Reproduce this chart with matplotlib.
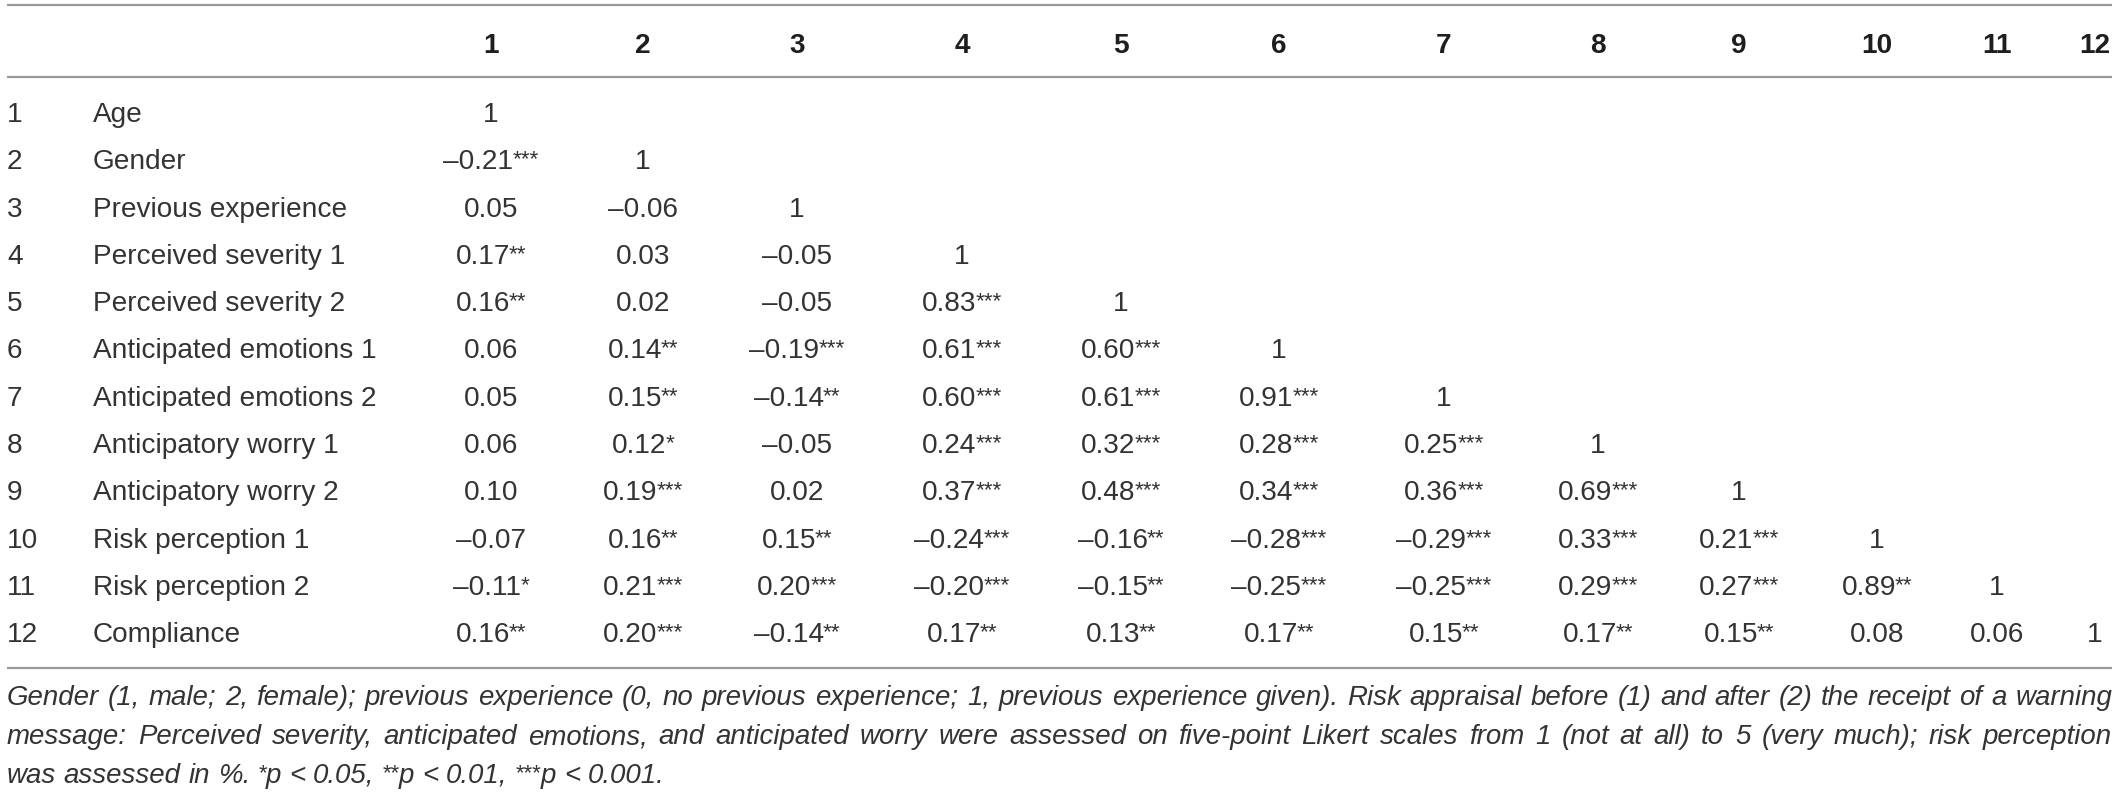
import matplotlib
matplotlib.use("Agg")
import matplotlib.pyplot as plt

# ---------------- data ----------------
col_headers = ["1", "2", "3", "4", "5", "6", "7", "8", "9", "10", "11", "12"]
row_numbers = ["1", "2", "3", "4", "5", "6", "7", "8", "9", "10", "11", "12"]
row_labels = ["Age", "Gender", "Previous experience", "Perceived severity 1",
              "Perceived severity 2", "Anticipated emotions 1", "Anticipated emotions 2",
              "Anticipatory worry 1", "Anticipatory worry 2", "Risk perception 1",
              "Risk perception 2", "Compliance"]
corr_values = [
    [1],
    [-0.21, 1],
    [0.05, -0.06, 1],
    [0.17, 0.03, -0.05, 1],
    [0.16, 0.02, -0.05, 0.83, 1],
    [0.06, 0.14, -0.19, 0.61, 0.60, 1],
    [0.05, 0.15, -0.14, 0.60, 0.61, 0.91, 1],
    [0.06, 0.12, -0.05, 0.24, 0.32, 0.28, 0.25, 1],
    [0.10, 0.19, 0.02, 0.37, 0.48, 0.34, 0.36, 0.69, 1],
    [-0.07, 0.16, 0.15, -0.24, -0.16, -0.28, -0.29, 0.33, 0.21, 1],
    [-0.11, 0.21, 0.20, -0.20, -0.15, -0.25, -0.25, 0.29, 0.27, 0.89, 1],
    [0.16, 0.20, -0.14, 0.17, 0.13, 0.17, 0.15, 0.17, 0.15, 0.08, 0.06, 1],
]
corr_stars = [
    [0],
    [3, 0],
    [0, 0, 0],
    [2, 0, 0, 0],
    [2, 0, 0, 3, 0],
    [0, 2, 3, 3, 3, 0],
    [0, 2, 2, 3, 3, 3, 0],
    [0, 1, 0, 3, 3, 3, 3, 0],
    [0, 3, 0, 3, 3, 3, 3, 3, 0],
    [0, 2, 2, 3, 2, 3, 3, 3, 3, 0],
    [1, 3, 3, 3, 2, 3, 3, 3, 3, 2, 0],
    [2, 3, 2, 2, 2, 2, 2, 2, 2, 0, 0, 0],
]
footnote_lines = [
    "Gender (1, male; 2, female); previous experience (0, no previous experience; 1, previous experience given). Risk appraisal before (1) and after (2) the receipt of a warning",
    "message: Perceived severity, anticipated emotions, and anticipated worry were assessed on five-point Likert scales from 1 (not at all) to 5 (very much); risk perception",
]
footnote_last = [("was", 0), ("assessed", 0), ("in", 0), ("%.", 0), ("*", 1), ("p", 0),
                 ("<", 0), ("0.05,", 0), ("**", 1), ("p", 0), ("<", 0), ("0.01,", 0),
                 ("***", 1), ("p", 0), ("<", 0), ("0.001.", 0)]

# ---------------- layout ----------------
W, H = 2118, 792
FONT = ["Liberation Sans", "DejaVu Sans"]
TXT = "#333333"
FS = 20.2
STAR = 0.8
col_x = [491, 643, 797, 962, 1121, 1279, 1444, 1598, 1739, 1877, 1997, 2095]
header_y = 43
row_y0, row_dy = 112, 47.3
cap = 10.0
left, right = 7, 2112

fig = plt.figure(figsize=(W / 100, H / 100), dpi=100)
ax = fig.add_axes([0, 0, 1, 1])
ax.set_xlim(0, W)
ax.set_ylim(H, 0)
ax.axis("off")
fig.canvas.draw()
renderer = fig.canvas.get_renderer()


def width(t):
    return t.get_window_extent(renderer).width


def fmt(v):
    if v == 1:
        return "1"
    s = f"{abs(v):.2f}"
    return ("\u2013" + s) if v < 0 else s


# horizontal rules
for yy in (5, 77, 668):
    ax.plot([left, right], [yy, yy], color="#9a9a9a", lw=1.6, solid_capstyle="butt")

# header
for x, h in zip(col_x, col_headers):
    ax.text(x, header_y + cap, h, ha="center", va="baseline", fontsize=FS,
            fontweight="bold", family=FONT, color="#1e1e1e")

# rows
for i, (num, lab) in enumerate(zip(row_numbers, row_labels)):
    yb = row_y0 + i * row_dy + cap
    ax.text(7, yb, num, ha="left", va="baseline", fontsize=FS, family=FONT, color=TXT)
    ax.text(93, yb, lab, ha="left", va="baseline", fontsize=FS, family=FONT, color=TXT)
    for j, (v, st) in enumerate(zip(corr_values[i], corr_stars[i])):
        t = ax.text(0, yb, fmt(v), ha="left", va="baseline", fontsize=FS,
                    family=FONT, color=TXT)
        w = width(t)
        ws = 0
        s = None
        if st:
            s = ax.text(0, yb - 4, "*" * st, ha="left", va="baseline",
                        fontsize=FS * STAR, family=FONT, color=TXT)
            ws = width(s) - 1
        x0 = col_x[j] - (w + ws) / 2
        t.set_x(x0)
        if s is not None:
            s.set_x(x0 + w - 1)

# footnote: size chosen so the first line fits with little extra spacing
probe = ax.text(0, 0, footnote_lines[0], fontsize=20, family=FONT, style="italic")
nat = width(probe)
probe.remove()
FS_FOOT = 20 * (right - left) / nat * 0.985

foot_y = [697, 736, 775]
for k, line in enumerate(footnote_lines):
    words = line.split(" ")
    ts = [ax.text(0, foot_y[k] + 8, wd, ha="left", va="baseline", fontsize=FS_FOOT,
                  family=FONT, style="italic", color=TXT) for wd in words]
    ws = [width(t) for t in ts]
    gap = (right - left - sum(ws)) / (len(words) - 1)
    x = left
    for t, w in zip(ts, ws):
        t.set_x(x)
        x += w + gap

# last footnote line, natural spacing
tmp1 = ax.text(0, 0, "a a", fontsize=FS_FOOT, family=FONT, style="italic")
tmp2 = ax.text(0, 0, "aa", fontsize=FS_FOOT, family=FONT, style="italic")
space = width(tmp1) - width(tmp2)
tmp1.remove()
tmp2.remove()
x = left
yb = foot_y[2] + 8
for wd, kind in footnote_last:
    if kind == 1:
        t = ax.text(x, yb - 4, wd, ha="left", va="baseline", fontsize=FS_FOOT * STAR,
                    family=FONT, style="italic", color=TXT)
        x += width(t)
    else:
        t = ax.text(x, yb, wd, ha="left", va="baseline", fontsize=FS_FOOT,
                    family=FONT, style="italic", color=TXT)
        x += width(t) + space

fig.savefig("out.png", dpi=100, facecolor="white")
